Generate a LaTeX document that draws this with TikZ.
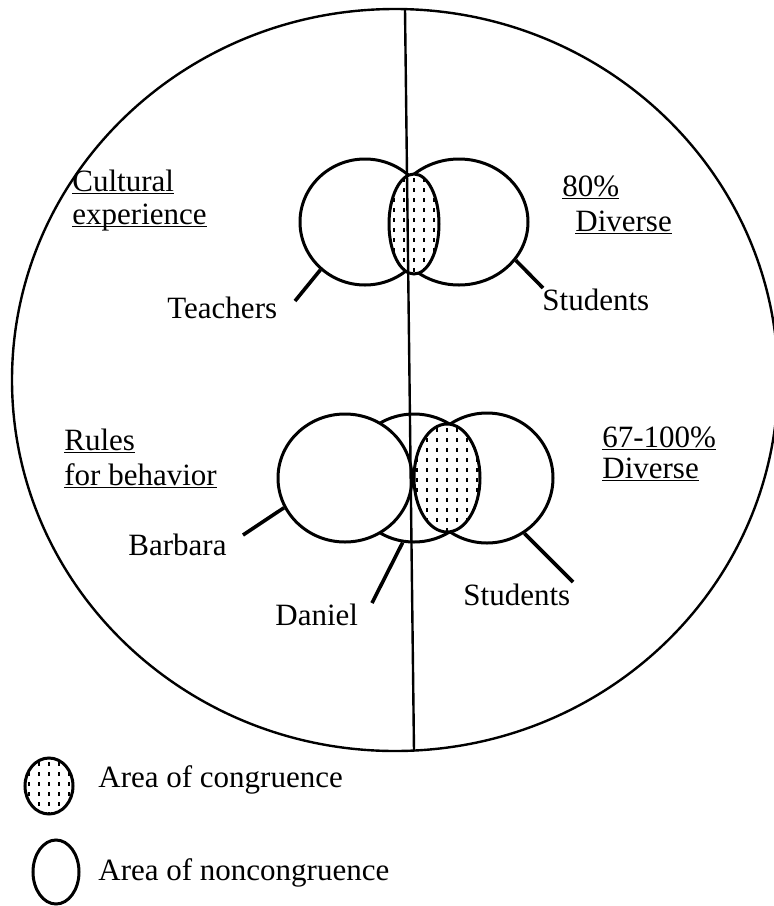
\documentclass[tikz,border=0pt]{standalone}
\usepackage{fontspec}
\setmainfont{Liberation Serif}
\usetikzlibrary{shapes.geometric}
\newcommand{\undl}[1]{\underline{\smash{#1}}}

\begin{document}
\begin{tikzpicture}[
  x=0.5pt, y=-0.5pt,
  font=\fontsize{15.5}{18}\selectfont,
  ring/.style={draw, ellipse, inner sep=0pt, line width=1.5pt},
  open/.style={ring, fill=white},
  cong/.style={ring, fill=white, path picture={
      \foreach \k in {-5,...,5}
        \draw[line width=1.3pt, dash pattern=on 2pt off 3pt]
          ([xshift=\k*5pt, yshift=-2pt]path picture bounding box.north)
          -- ([xshift=\k*5pt]path picture bounding box.south);}},
  lbl/.style={anchor=base west, inner sep=0pt},
  lead/.style={line width=1.8pt},
]
\useasboundingbox (0,0) rectangle (773,906);

% ---------------- outer field ----------------
\node[draw, ellipse, line width=1.2pt, minimum width=383pt, minimum height=371pt]
  (field) at (395,380) {};

% ---------------- cultural experience ----------------
\node[open, minimum width=65pt, minimum height=63pt] (teach) at (365,222) {};
\node[open, minimum width=69pt, minimum height=63pt] (stud) at (459,222) {};
\node[cong, minimum width=25pt, minimum height=50pt] (lensTop) at (414,224) {};

% ---------------- rules for behavior ----------------
\node[ring, minimum width=66pt, minimum height=64pt] (daniel) at (414,478) {};
\node[open, minimum width=67pt, minimum height=64pt] (barbara) at (345,478) {};
\node[open, minimum width=66pt, minimum height=65pt] (studB) at (487,478) {};
\node[cong, minimum width=33pt, minimum height=54pt] (lensBot) at (447,478) {};

% dividing line
\coordinate (divTop) at (405,9);
\coordinate (divBot) at (414,751);
\draw[line width=1.2pt] (divTop) -- (divBot);

% ---------------- labels ----------------
\node[lbl] (cult) at (72,191) {\undl{Cultural}};
\node[lbl] (exper) at (72,224) {\undl{experience}};
\node[lbl] (pctTop) at (562,196) {\undl{80\%}};
\node[lbl] (divTopTxt) at (575,231) {\undl{Diverse}};
\node[lbl] (teachTxt) at (167,318) {Teachers};
\node[lbl] (studTxt) at (542,310) {Students};

\node[lbl] (rules) at (64,450) {\undl{Rules}};
\node[lbl] (behav) at (64,485) {\undl{for behavior}};
\node[lbl] (pctBot) at (602,447) {\undl{67-100\%}};
\node[lbl] (divBotTxt) at (602,478) {\undl{Diverse}};
\node[lbl] (barbTxt) at (128,555) {Barbara};
\node[lbl] (danTxt) at (275,625) {Daniel};
\node[lbl] (studBTxt) at (463,605) {Students};

% ---------------- leader lines ----------------
\coordinate (teachEnd) at (295,301);
\coordinate (studEnd) at (543,288);
\coordinate (barbEnd) at (243,535);
\coordinate (danEnd) at (372,603);
\coordinate (studBEnd) at (573,582);
\draw[lead] (teach.-133) -- (teachEnd);
\draw[lead] (stud.-34) -- (studEnd);
\draw[lead] (barbara.-154) -- (barbEnd);
\draw[lead] (daniel.-100) -- (danEnd);
\draw[lead] (studB.-56) -- (studBEnd);

% ---------------- key ----------------
\node[cong, minimum width=24pt, minimum height=28pt] (keyCong) at (49,786) {};
\node[ring, minimum width=23pt, minimum height=32pt] (keyOpen) at (56,872) {};
\node[lbl] (keyCongTxt) at (98,787) {Area of congruence};
\node[lbl] (keyOpenTxt) at (98,880) {Area of noncongruence};

\end{tikzpicture}
\end{document}
